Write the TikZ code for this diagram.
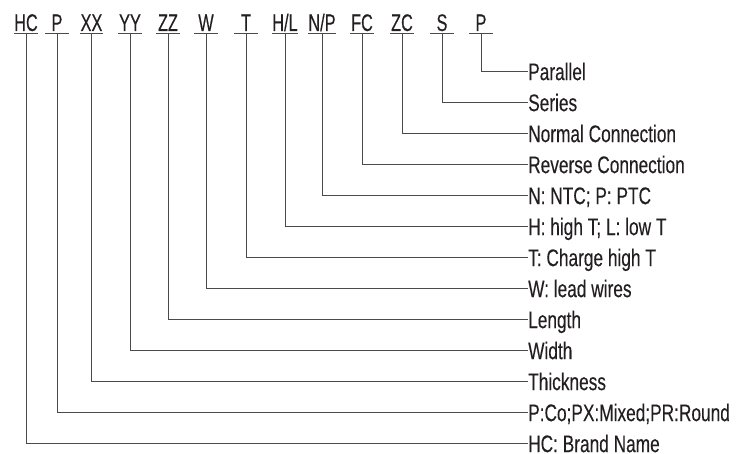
\documentclass[tikz,border=0pt]{standalone}
\usepackage{fontspec}
\setmainfont{Liberation Sans}[FakeStretch=0.72,FakeBold=0.2]
\newfontfamily\codefont{Liberation Sans}[FakeStretch=0.68,FakeBold=0.2]
\definecolor{txt}{HTML}{231F20}
\definecolor{ln}{HTML}{4A4A4A}
\begin{document}
\begin{tikzpicture}[x=1pt,y=-1pt,
  code/.style={font=\codefont\fontsize{24}{28}\selectfont, text=txt, inner xsep=0pt, inner ysep=2.3pt,
    text depth=0pt, minimum width=23pt, anchor=base},
  lab/.style={font=\fontsize{24}{28}\selectfont, text=txt, inner sep=0pt,
    text height=17.2pt, text depth=0pt, anchor=west},
  uline/.style={draw=ln, line width=0.9pt},
  conn/.style={draw=ln, line width=0.9pt}]
\useasboundingbox (0,0) rectangle (755,454);
% codes
\node[code] (c1) at (26,31) {HC};
\node[code] (c2) at (57,31) {P};
\node[code] (c3) at (91.5,31) {XX};
\node[code] (c4) at (130,31) {YY};
\node[code] (c5) at (168,31) {ZZ};
\node[code] (c6) at (206,31) {W};
\node[code] (c7) at (246,31) {T};
\node[code] (c8) at (285,31) {H/L};
\node[code] (c9) at (322,31) {N/P};
\node[code] (c10) at (362,31) {FC};
\node[code] (c11) at (402,31) {ZC};
\node[code] (c12) at (442,31) {S};
\node[code] (c13) at (481,31) {P};
% labels
\node[lab] (l13) at (528,71.5) {Parallel};
\node[lab] (l12) at (528,102.5) {Series};
\node[lab] (l11) at (528,133.5) {Normal Connection};
\node[lab] (l10) at (528,164.5) {Reverse Connection};
\node[lab] (l9) at (528,195.5) {N: NTC; P: PTC};
\node[lab] (l8) at (528,226.5) {H: high T; L: low T};
\node[lab] (l7) at (528,257.5) {T: Charge high T};
\node[lab] (l6) at (528,288.5) {W: lead wires};
\node[lab] (l5) at (528,319.5) {Length};
\node[lab] (l4) at (528,350.5) {Width};
\node[lab] (l3) at (528,381.5) {Thickness};
\node[lab] (l2) at (528,412.5) {P:Co;PX:Mixed;PR:Round};
\node[lab] (l1) at (528,443.5) {HC: Brand Name};
% underlines and connectors
\foreach \i in {1,...,13}{
  \draw[uline] (c\i.south west) -- (c\i.south east);
  \draw[conn] (c\i.south) |- (l\i.west);
}
\end{tikzpicture}
\end{document}
